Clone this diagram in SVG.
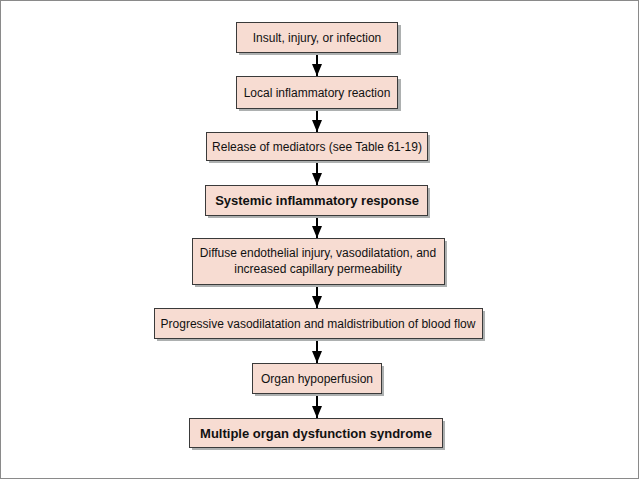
<svg xmlns="http://www.w3.org/2000/svg" width="640" height="480" viewBox="0 0 640 480">
<defs>
<style>
.box{fill:#f7dcd2;stroke:#3a3a3a;stroke-width:1}
.sh{fill:#adb0b0}
.t{font-family:"Liberation Sans",Arial,sans-serif;font-size:12px;fill:#111;text-anchor:middle}
.b{font-weight:bold;font-size:13px}
.c{stroke:#000;stroke-width:2;fill:none}
</style>
<marker id="ah" markerWidth="12" markerHeight="10" refX="12" refY="5" orient="auto" markerUnits="userSpaceOnUse" viewBox="0 0 12 10">
<path d="M0,0 L12,5 L0,10 Z" fill="#000"/>
</marker>
</defs>
<rect x="0" y="0" width="640" height="480" fill="#fff"/>
<rect x="0.5" y="0.5" width="638" height="478" fill="none" stroke="#8a8a8a" stroke-width="1"/>
<g id="connectors">
<line class="c" x1="317" y1="53" x2="317" y2="76" marker-end="url(#ah)"/>
<line class="c" x1="317" y1="109" x2="317" y2="132" marker-end="url(#ah)"/>
<line class="c" x1="317" y1="161" x2="317" y2="185" marker-end="url(#ah)"/>
<line class="c" x1="317" y1="216" x2="317" y2="238" marker-end="url(#ah)"/>
<line class="c" x1="317" y1="285" x2="317" y2="308" marker-end="url(#ah)"/>
<line class="c" x1="317" y1="339" x2="317" y2="363" marker-end="url(#ah)"/>
<line class="c" x1="317" y1="394" x2="317" y2="418" marker-end="url(#ah)"/>
</g>
<g id="n1"><rect class="sh" x="239" y="25" width="162" height="30"/><rect class="box" x="236.5" y="22.5" width="161" height="30"/><text class="t" x="317" y="42">Insult, injury, or infection</text></g>
<g id="n2"><rect class="sh" x="239" y="79" width="162" height="32"/><rect class="box" x="236.5" y="76.5" width="161" height="32"/><text class="t" x="317" y="97">Local inflammatory reaction</text></g>
<g id="n3"><rect class="sh" x="209" y="135" width="221" height="28"/><rect class="box" x="206.5" y="132.5" width="221" height="28"/><text class="t" x="317" y="151">Release of mediators (see Table 61-19)</text></g>
<g id="n4"><rect class="sh" x="208" y="188" width="222" height="30"/><rect class="box" x="205.5" y="185.5" width="222" height="30"/><text class="t b" x="317" y="205">Systemic inflammatory response</text></g>
<g id="n5"><rect class="sh" x="195" y="241" width="252" height="46"/><rect class="box" x="192.5" y="238.5" width="252" height="46"/><text class="t" x="318" y="257">Diffuse endothelial injury, vasodilatation, and</text><text class="t" x="318" y="273">increased capillary permeability</text></g>
<g id="n6"><rect class="sh" x="157" y="311" width="328" height="30"/><rect class="box" x="154.5" y="308.5" width="328" height="30"/><text class="t" x="318" y="328">Progressive vasodilatation and maldistribution of blood flow</text></g>
<g id="n7"><rect class="sh" x="255" y="366" width="129" height="30"/><rect class="box" x="252.5" y="363.5" width="129" height="30"/><text class="t" x="317" y="383">Organ hypoperfusion</text></g>
<g id="n8"><rect class="sh" x="192" y="421" width="253" height="29"/><rect class="box" x="189.5" y="418.5" width="253" height="29"/><text class="t b" x="316" y="438">Multiple organ dysfunction syndrome</text></g>
</svg>
